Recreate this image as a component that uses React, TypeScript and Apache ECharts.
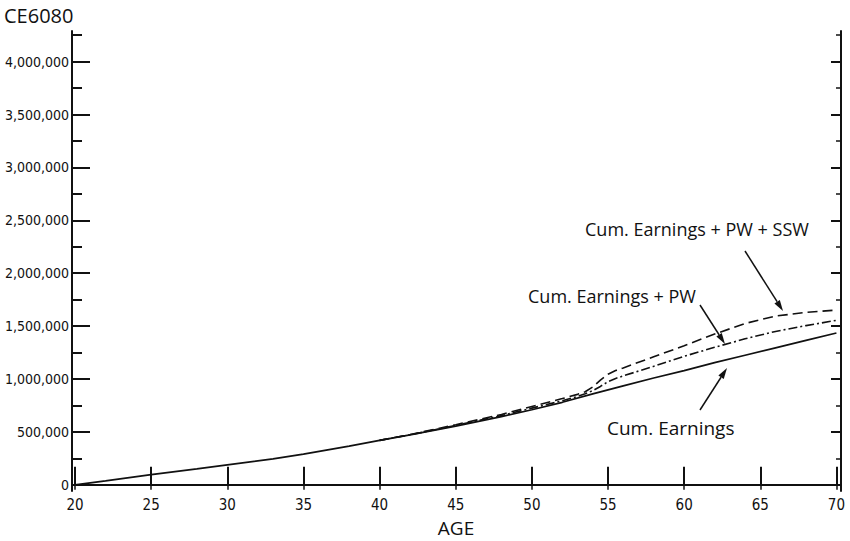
import React, { useEffect, useRef } from "react";
import * as echarts from "echarts";

const chartTitle = "CE6080";
const xAxisTitle = "AGE";
const ageTicks = [20, 25, 30, 35, 40, 45, 50, 55, 60, 65, 70];
const yMajorTicks = [0, 500000, 1000000, 1500000, 2000000, 2500000, 3000000, 3500000, 4000000];
const yMinorTicks = [250000, 750000, 1250000, 1750000, 2250000, 2750000, 3250000, 3750000, 4250000];

const cumEarnings: [number, number][] = [
  [20, 0], [22, 37000], [25, 97000], [28, 150000], [30, 189000], [33, 245000], [35, 290000],
  [38, 365000], [40, 420000], [42, 472000], [45, 555000], [48, 645000], [50, 710000],
  [52, 780000], [54, 860000], [56, 935000], [58, 1010000], [60, 1080000], [62, 1155000],
  [64, 1225000], [66, 1295000], [68, 1365000], [70, 1435000],
];
const cumEarningsPW: [number, number][] = [
  [40, 420000], [42, 473000], [45, 561000], [48, 655000], [50, 725000], [52, 795000],
  [53, 835000], [53.5, 860000], [54, 890000], [54.5, 930000], [55, 975000], [55.5, 1005000],
  [56, 1030000], [58, 1120000], [60, 1215000], [62, 1300000], [64, 1380000], [66, 1450000],
  [68, 1505000], [70, 1555000],
];
const cumEarningsPWSSW: [number, number][] = [
  [40, 420000], [42, 475000], [45, 568000], [48, 665000], [50, 740000], [52, 815000],
  [53, 855000], [53.5, 880000], [54, 925000], [54.5, 990000], [55, 1045000], [55.5, 1080000],
  [56, 1105000], [58, 1210000], [60, 1315000], [62, 1425000], [64, 1525000], [66, 1595000],
  [68, 1630000], [70, 1652000],
];

const labelSSW = "Cum. Earnings + PW + SSW";
const labelPW = "Cum. Earnings + PW";
const labelEarn = "Cum. Earnings";

const INK = "#111";
const NUM_FONT = "'Liberation Sans Narrow', 'DejaVu Sans Condensed', sans-serif";
const TXT_FONT = "'Open Sans', 'DejaVu Sans', sans-serif";

function arrow(x1: number, y1: number, x2: number, y2: number) {
  const dx = x2 - x1, dy = y2 - y1;
  const len = Math.sqrt(dx * dx + dy * dy);
  const ux = dx / len, uy = dy / len;
  const hl = 11, hw = 3.2;
  const bx = x2 - ux * hl, by = y2 - uy * hl;
  return [
    { type: "line", shape: { x1, y1, x2: bx, y2: by }, style: { stroke: INK, lineWidth: 1.5 } },
    {
      type: "polygon",
      shape: { points: [[x2, y2], [bx - uy * hw, by + ux * hw], [bx + uy * hw, by - ux * hw]] },
      style: { fill: INK },
    },
  ];
}

export default function App() {
  const ref = useRef<HTMLDivElement>(null);
  useEffect(() => {
    if (!ref.current) return;
    const chart = echarts.init(ref.current, undefined, { renderer: "svg" });
    const yMin = -58500, yMax = 4290000, xMin = 19.8, xMax = 70.3;
    const fmt = (v: number) => v.toLocaleString("en-US");
    const option: any = {
      animation: false,
      backgroundColor: "#fff",
      grid: { left: 72, right: 9, top: 31, bottom: 50 },
      xAxis: [
        {
          type: "value", min: xMin, max: xMax, position: "bottom",
          axisLine: { show: true, lineStyle: { color: INK, width: 2 } },
          axisTick: { show: true, inside: true, length: 18, customValues: ageTicks, lineStyle: { color: INK, width: 2 } },
          axisLabel: { show: true, customValues: ageTicks, color: INK, fontFamily: NUM_FONT, fontSize: 15, margin: 6 },
          splitLine: { show: false },
        },
        {
          type: "value", min: xMin, max: xMax, position: "top",
          axisLine: { show: true, lineStyle: { color: INK, width: 2 } },
          axisTick: { show: true, inside: true, length: 5, customValues: ageTicks, lineStyle: { color: INK, width: 1.5 } },
          axisLabel: { show: false },
          splitLine: { show: false },
        },
      ],
      yAxis: [
        {
          type: "value", min: yMin, max: yMax, position: "left",
          axisLine: { show: true, lineStyle: { color: INK, width: 2 } },
          axisTick: { show: true, inside: true, length: 18, customValues: yMajorTicks, lineStyle: { color: INK, width: 2 } },
          axisLabel: { show: true, customValues: yMajorTicks, formatter: fmt, color: INK, fontFamily: NUM_FONT, fontSize: 14, margin: 3 },
          splitLine: { show: false },
        },
        {
          type: "value", min: yMin, max: yMax, position: "left",
          axisLine: { show: false },
          axisTick: { show: true, inside: true, length: 10, customValues: yMinorTicks, lineStyle: { color: INK, width: 2 } },
          axisLabel: { show: false },
          splitLine: { show: false },
        },
        {
          type: "value", min: yMin, max: yMax, position: "right",
          axisLine: { show: true, lineStyle: { color: INK, width: 2 } },
          axisTick: { show: true, inside: true, length: 10, customValues: yMajorTicks, lineStyle: { color: INK, width: 2 } },
          axisLabel: { show: false },
          splitLine: { show: false },
        },
        {
          type: "value", min: yMin, max: yMax, position: "right",
          axisLine: { show: false },
          axisTick: { show: true, inside: true, length: 5, customValues: yMinorTicks, lineStyle: { color: INK, width: 1.5 } },
          axisLabel: { show: false },
          splitLine: { show: false },
        },
      ],
      series: [
        {
          name: labelEarn, type: "line", data: cumEarnings, xAxisIndex: 0, yAxisIndex: 0,
          showSymbol: false, symbol: "none",
          lineStyle: { color: INK, width: 1.7, type: "solid" },
          markLine: {
            silent: true, symbol: ["none", "none"], label: { show: false },
            lineStyle: { color: INK, width: 1.6, type: "solid" },
            data: [{ yAxis: 0 }],
          },
        },
        {
          name: labelPW, type: "line", data: cumEarningsPW, xAxisIndex: 0, yAxisIndex: 0,
          showSymbol: false, symbol: "none",
          lineStyle: { color: INK, width: 1.6, type: [9, 3, 2, 3] },
        },
        {
          name: labelSSW, type: "line", data: cumEarningsPWSSW, xAxisIndex: 0, yAxisIndex: 0,
          showSymbol: false, symbol: "none",
          lineStyle: { color: INK, width: 1.6, type: [10, 5] },
        },
      ],
      graphic: [
        { type: "text", left: 4, top: 5, style: { text: chartTitle, fill: INK, font: `20px ${TXT_FONT}` } },
        { type: "text", x: 456, y: 528, style: { text: xAxisTitle, fill: INK, font: `19px ${TXT_FONT}`, align: "center", verticalAlign: "middle" } },
        { type: "text", x: 585, y: 229, style: { text: labelSSW, fill: INK, font: `18px ${TXT_FONT}`, verticalAlign: "middle" } },
        { type: "text", x: 528, y: 296, style: { text: labelPW, fill: INK, font: `18px ${TXT_FONT}`, verticalAlign: "middle" } },
        { type: "text", x: 607, y: 428, style: { text: labelEarn, fill: INK, font: `19px ${TXT_FONT}`, verticalAlign: "middle" } },
        ...arrow(745, 251, 783, 311),
        ...arrow(700, 305, 725, 344),
        ...arrow(700, 410, 727, 368),
      ],
    };
    chart.setOption(option);
    return () => chart.dispose();
  }, []);
  return <div ref={ref} style={{ position: "fixed", left: 0, top: 0, width: 850, height: 541, background: "#fff" }} />;
}
